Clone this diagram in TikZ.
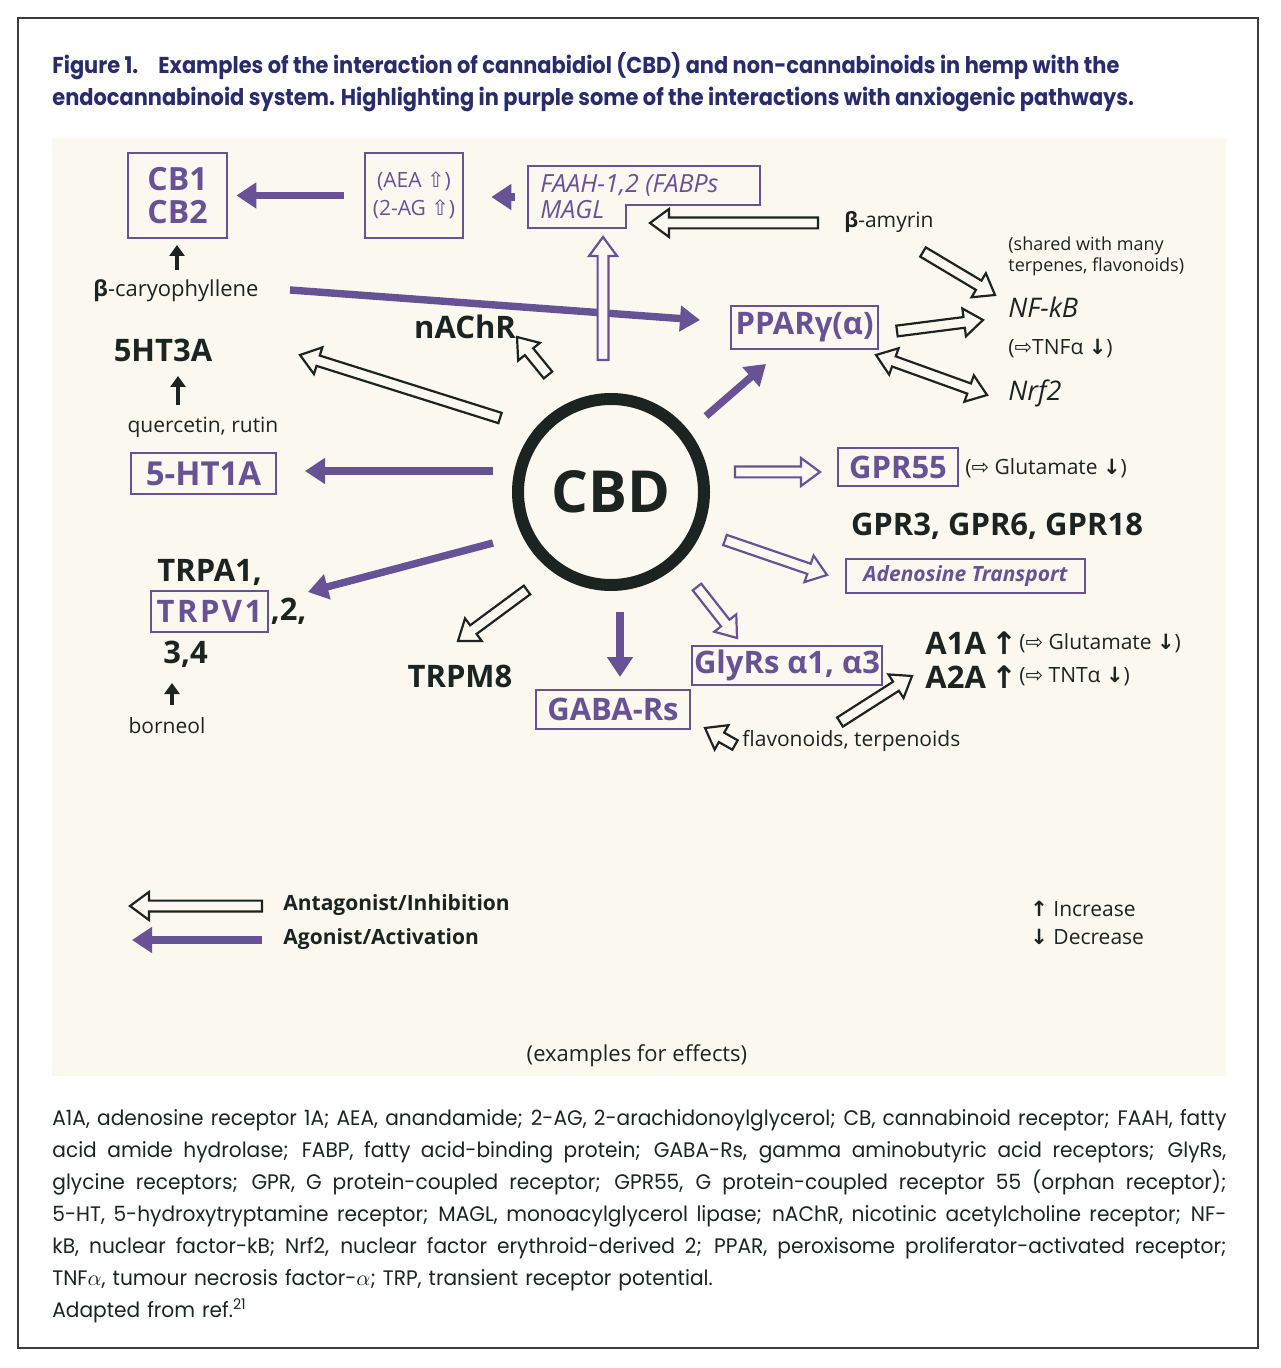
\documentclass[tikz,border=0pt]{standalone}
\usepackage{fontspec}
\setmainfont{Open Sans}
\newfontfamily\popfont[FakeStretch=0.91]{Poppins}
\newfontfamily\footfont[FakeStretch=0.96]{Poppins}
\newfontfamily\symfont{DejaVu Sans}
\usetikzlibrary{arrows.meta,positioning,calc}
\definecolor{ink}{RGB}{28,36,33}
\definecolor{purp}{RGB}{104,82,150}
\definecolor{navy}{RGB}{40,44,110}
\definecolor{cream}{RGB}{251,248,240}
\definecolor{rim}{RGB}{60,60,60}
\newcommand\upa{{\symfont\bfseries ↑}}
\newcommand\downa{{\symfont\bfseries ↓}}
\newcommand\impa{{\symfont ⇨}}
\newcommand\hupa{{\symfont ⇧}}
% hollow block arrows
\newcommand\shaftw{2.7pt}
\newcommand\headw{7pt}
\newcommand\headl{9.5pt}
\newcommand\hollowarrow[3][ink]{%
  \draw[hollow,draw=#1] let \p1=(#2), \p2=(#3),
    \n1={atan2(\y2-\y1,\x2-\x1)}, \n2={veclen(\x2-\x1,\y2-\y1)} in
    ($(\p1)+(\n1+90:\shaftw)$) -- ++(\n1:{\n2-\headl})
    -- ++(\n1+90:{\headw-\shaftw}) -- (\p2)
    -- ($(\p1)+(\n1:{\n2-\headl})+(\n1-90:\headw)$)
    -- ++(\n1+90:{\headw-\shaftw}) -- ($(\p1)+(\n1-90:\shaftw)$) -- cycle;}
\newcommand\hollowboth[3][ink]{%
  \draw[hollow,draw=#1] let \p1=(#2), \p2=(#3),
    \n1={atan2(\y2-\y1,\x2-\x1)}, \n2={veclen(\x2-\x1,\y2-\y1)} in
    (\p1) -- ($(\p1)+(\n1:\headl)+(\n1+90:\headw)$)
    -- ++(\n1-90:{\headw-\shaftw})
    -- ($(\p1)+(\n1:{\n2-\headl})+(\n1+90:\shaftw)$)
    -- ++(\n1+90:{\headw-\shaftw}) -- (\p2)
    -- ($(\p1)+(\n1:{\n2-\headl})+(\n1-90:\headw)$)
    -- ++(\n1+90:{\headw-\shaftw})
    -- ($(\p1)+(\n1:\headl)+(\n1-90:\shaftw)$)
    -- ++(\n1-90:{\headw-\shaftw}) -- cycle;}
\newcommand\fline[1]{\makebox[587pt][s]{\spaceskip=0.26em plus 2em minus 0.05em\relax #1}}
\tikzset{
  pbox/.style={draw=purp,line width=1.4pt,text=purp,inner sep=0pt,align=center,
    font=\bfseries\fontsize{15.5}{18}\selectfont},
  blab/.style={text=ink,inner sep=0pt,font=\bfseries\fontsize{15.5}{18}\selectfont},
  note/.style={text=ink,inner sep=0pt,font=\fontsize{10.5}{13}\selectfont},
  agon/.style={draw=purp,line width=3.7pt,-{Triangle[length=10pt,width=12.5pt]}},
  lift/.style={draw=ink,line width=2.2pt,-{Triangle[length=5.5pt,width=7.5pt]}},
  hollow/.style={line width=1.1pt,fill=cream,line join=miter},
  captext/.style={text=navy,inner sep=0pt,align=left,
    font=\popfont\bfseries\fontsize{11.5}{16}\selectfont},
  foot/.style={text=ink,inner sep=0pt,align=left,text width=587pt,
    font=\footfont\fontsize{10.5}{16}\selectfont},
}
\begin{document}
\begin{tikzpicture}[x=0.5pt,y=-0.5pt]
\useasboundingbox (0,0) rectangle (1280,1368);
\draw[rim,line width=0.8pt] (18,18) rectangle (1258,1348);
\fill[cream] (52,138) rectangle (1226,1076);

% caption and abbreviations
\node[captext,anchor=north west] (capt) at (52,52)
  {Figure 1.\hspace{10pt}Examples of the interaction of cannabidiol (CBD) and non-cannabinoids in hemp with the\\
   endocannabinoid system. Highlighting in purple some of the interactions with anxiogenic pathways.};
\node[foot,anchor=north west] (abbr) at (52,1109) {%
  \fline{A1A, adenosine receptor 1A; AEA, anandamide; 2-AG, 2-arachidonoylglycerol; CB, cannabinoid receptor; FAAH, fatty}\\
  \fline{acid amide hydrolase; FABP, fatty acid-binding protein; GABA-Rs, gamma aminobutyric acid receptors; GlyRs,}\\
  \fline{glycine receptors; GPR, G protein-coupled receptor; GPR55, G protein-coupled receptor 55 (orphan receptor);}\\
  \fline{5-HT, 5-hydroxytryptamine receptor; MAGL, monoacylglycerol lipase; nAChR, nicotinic acetylcholine receptor; NF-}\\
  \fline{kB, nuclear factor-kB; Nrf2, nuclear factor erythroid-derived 2; PPAR, peroxisome proliferator-activated receptor;}\\
  TNF$\alpha$, tumour necrosis factor-$\alpha$; TRP, transient receptor potential.\\
  Adapted from ref.\textsuperscript{21}};

% receptors and compounds
\node[pbox,minimum width=49.5pt,minimum height=42.5pt,
  font=\bfseries\fontsize{16}{16.5}\selectfont] (cb) at (177.5,195.5) {CB1\\CB2};
\node[pbox,minimum width=49pt,minimum height=42.5pt,
  font=\fontsize{10.5}{14}\selectfont] (aea) at (414,195.5) {(AEA \hupa)\\(2-AG \hupa)};
\node[text=purp,inner sep=0pt,align=left,anchor=west,
  font=\itshape\fontsize{12.5}{13}\selectfont] (faah) at (540,197) {FAAH-1,2 (FABPs\\MAGL};
\draw[purp,line width=1.4pt] (528,166) -- (760,166) -- (760,205) -- (626,205)
  -- (626,228) -- (528,228) -- cycle;
\node[note] (amyrin) at (889,222) {\textbf{β}-amyrin};
\node[note,anchor=west,align=left,font=\fontsize{9}{10.5}\selectfont] (shared)
  at (1008,256.5) {(shared with many\\terpenes, flavonoids)};
\node[note,anchor=west,font=\itshape\fontsize{13.5}{15}\selectfont] (nfkb) at (1008,307) {NF-kB};
\node[note,anchor=west] (tnf) at (1008,349) {(\impa TNFα \downa)};
\node[note,anchor=west,font=\itshape\fontsize{13.5}{15}\selectfont] (nrf) at (1008,393) {Nrf2};
\node[pbox,minimum width=73.5pt,minimum height=21.5pt] (ppar) at (804.5,327.5) {PPARγ(α)};
\node[note,font=\fontsize{11}{13}\selectfont] (bcar) at (176,291) {\textbf{β}-caryophyllene};
\node[blab] (nachr) at (465,327) {nAChR};
\node[blab] (ht3a) at (163,350) {5HT3A};
\node[note] (querc) at (203,427) {quercetin, rutin};
\node[pbox,minimum width=72.5pt,minimum height=20.5pt,
  font=\bfseries\fontsize{16.5}{18}\selectfont] (ht1a) at (203.5,473.5) {5-HT1A};
\node[circle,draw=ink,line width=6pt,minimum size=93pt,text=ink,
  font=\bfseries\fontsize{29}{30}\selectfont] (cbd) at (611,492) {CBD};
\node[pbox,minimum width=60pt,minimum height=19pt] (gpr55) at (898,467) {GPR55};
\node[note,anchor=west] (glut) at (965,468) {(\impa\ Glutamate \downa)};
\node[blab] (gprs) at (997,526) {GPR3, GPR6, GPR18};
\node[pbox,minimum width=119.5pt,minimum height=17pt,
  font=\bfseries\itshape\fontsize{10.5}{12}\selectfont] (adeno) at (965.5,576) {Adenosine Transport};
\node[blab,anchor=west] (trpa) at (157,572) {TRPA1,};
\node[pbox,minimum width=58.5pt,minimum height=20.5pt,
  font=\fontsize{15.5}{18}\selectfont\bfseries\addfontfeature{LetterSpace=8}] (trpv)
  at (209.5,611.5) {TRPV1};
\node[blab,right=0.5pt of trpv] (trpvrest) {,2,};
\node[blab,anchor=west] (trp34) at (163,654) {3,4};
\node[note] (borneol) at (167,726) {borneol};
\node[blab] (trpm) at (460,676) {TRPM8};
\node[pbox,minimum width=77pt,minimum height=19.5pt] (gaba) at (613,709.5) {GABA-Rs};
\node[pbox,minimum width=95pt,minimum height=19.5pt] (glyrs) at (787,665.5) {GlyRs α1, α3};
\node[blab,anchor=west] (a1a) at (925,643) {A1A\,\upa};
\node[note,anchor=west] (a1anote) at (1019,643) {(\impa\ Glutamate \downa)};
\node[blab,anchor=west] (a2a) at (925,677) {A2A\,\upa};
\node[note,anchor=west] (a2anote) at (1019,677) {(\impa\ TNTα \downa)};
\node[note,anchor=west] (flav) at (742,741) {flavonoids, terpenoids};

% arrow ends
\coordinate (amyL) at (818,223);   \coordinate (faahR) at (650,223);
\coordinate (amyD) at (923,252);   \coordinate (nfkbU) at (995,295);
\coordinate (pparR) at (897,331);  \coordinate (nfkbL) at (983,320);
\coordinate (pparD) at (876,355);  \coordinate (nrfL) at (987,395);
\coordinate (bcarR) at (290,290);  \coordinate (pparL) at (700,320);
\coordinate (bcarU) at (177,270);  \coordinate (cbD) at (177,245);
\coordinate (quercU) at (178,405); \coordinate (ht3aD) at (178,376);
\coordinate (bornU) at (172,705);  \coordinate (trp34D) at (172,683);
\coordinate (cbdN) at (603,360);   \coordinate (faahD) at (603,237);
\coordinate (cbdNW) at (548,375);  \coordinate (nachrD) at (517,337);
\coordinate (cbdW1) at (500,418);  \coordinate (ht3aR) at (300,355);
\coordinate (cbdW2) at (493,471);  \coordinate (ht1aR) at (305,471);
\coordinate (cbdNE) at (706,416);  \coordinate (pparDL) at (766,364);
\coordinate (cbdE) at (735,472);   \coordinate (gpr55L) at (820,472);
\coordinate (cbdSE) at (725,540);  \coordinate (adenoL) at (827,575);
\coordinate (cbdW3) at (493,543);  \coordinate (trpvR) at (308,592);
\coordinate (cbdSW) at (527,590);  \coordinate (trpmU) at (458,641);
\coordinate (cbdS) at (620,612);   \coordinate (gabaU) at (620,677);
\coordinate (cbdS2) at (697,587);  \coordinate (glyrsU) at (737,638);
\coordinate (flavA) at (840,722);  \coordinate (a2aL) at (912,676);
\coordinate (flavL) at (735,745);  \coordinate (gabaR) at (705,728);

% agonist arrows
\draw[agon,shorten <=10pt,shorten >=4pt] (aea) -- (cb);
\draw[agon,shorten <=12.5pt,shorten >=13.5pt] (faah.west) -- (faah.west -| aea.east);
\draw[agon] (bcarR) -- (pparL);
\draw[agon] (cbdW2) -- (ht1aR);
\draw[agon] (cbdNE) -- (pparDL);
\draw[agon] (cbdW3) -- (trpvR);
\draw[agon] (cbdS) -- (gabaU);
\draw[lift] (bcarU) -- (cbD);
\draw[lift] (quercU) -- (ht3aD);
\draw[lift] (bornU) -- (trp34D);

% antagonist arrows
\hollowarrow{amyL}{faahR}
\hollowarrow{amyD}{nfkbU}
\hollowarrow{pparR}{nfkbL}
\hollowboth{pparD}{nrfL}
\hollowarrow[purp]{cbdN}{faahD}
\hollowarrow{cbdNW}{nachrD}
\hollowarrow{cbdW1}{ht3aR}
\hollowarrow[purp]{cbdE}{gpr55L}
\hollowarrow[purp]{cbdSE}{adenoL}
\hollowarrow{cbdSW}{trpmU}
\hollowarrow[purp]{cbdS2}{glyrsU}
\hollowarrow{flavA}{a2aL}
\hollowarrow{flavL}{gabaR}

% legend
\coordinate (antR) at (262,906); \coordinate (antL) at (130,906);
\coordinate (agoR) at (262,940); \coordinate (agoL) at (132,940);
\hollowarrow{antR}{antL}
\draw[agon] (agoR) -- (agoL);
\node[note,anchor=west,font=\bfseries\fontsize{10.5}{13}\selectfont] (antag) at (283,905) {Antagonist/Inhibition};
\node[note,anchor=west,font=\bfseries\fontsize{10.5}{13}\selectfont] (agotext) at (283,939) {Agonist/Activation};
\node[note,anchor=west] (incr) at (1030,909) {\upa\ Increase};
\node[note,anchor=west] (decr) at (1030,937) {\downa\ Decrease};
\node[note,font=\fontsize{11}{13}\selectfont] (examples) at (637,1056) {(examples for effects)};
\end{tikzpicture}
\end{document}
